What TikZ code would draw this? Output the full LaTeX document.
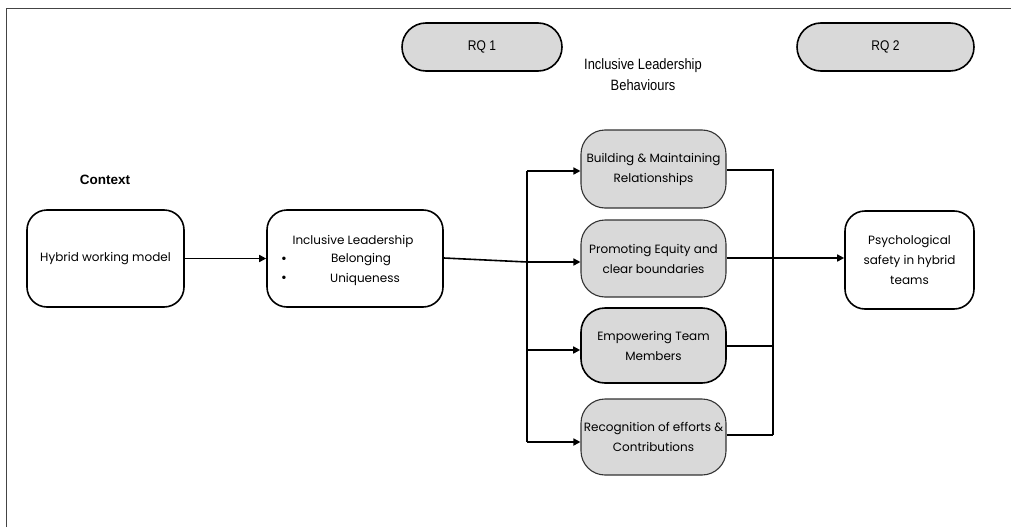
\documentclass[tikz,border=0pt]{standalone}
\usepackage{fontspec}
\setmainfont{Poppins}
\newfontfamily\narrowfont[FakeStretch=0.86]{Liberation Sans}
\newfontfamily\ctxfont{Liberation Sans}
\usetikzlibrary{arrows.meta}
\definecolor{boxgray}{HTML}{D9D9D9}
\definecolor{framegray}{HTML}{444444}
\tikzset{
  boxfont/.style={font=\fontsize{12}{20}\selectfont},
  whitebox/.style={draw=black, line width=1.6pt, fill=white, rounded corners=20pt,
    align=center, boxfont, inner sep=0pt},
  graybox/.style={draw=black!80, line width=1.1pt, fill=boxgray, rounded corners=24pt,
    align=center, boxfont, minimum width=145pt, inner sep=0pt},
  rqbox/.style={draw=black, line width=1.6pt, fill=boxgray, rounded corners=24pt,
    align=center, font=\narrowfont\fontsize{14}{16}\selectfont, inner sep=0pt, minimum height=48pt},
  conn/.style={line width=1.6pt, draw=black},
  arr/.style={conn, -{Triangle[length=7pt,width=7pt]}},
}
\begin{document}
\begin{tikzpicture}[x=1pt,y=-1pt]
\useasboundingbox (0,0) rectangle (1011,527);
\draw[framegray, line width=1.5pt] (6.5,527) -- (6.5,8.5) -- (1011,8.5);

% top labels
\node[rqbox, minimum width=160pt] (rq1) at (482,47) {RQ 1};
\node[rqbox, minimum width=177pt] (rq2) at (885.5,47) {RQ 2};
\node[font=\narrowfont\fontsize{15}{21}\selectfont, align=center] (ilb) at (643,75) {Inclusive Leadership\\Behaviours};

% context
\node[font=\ctxfont\bfseries\fontsize{13.5}{16}\selectfont] (ctx) at (105,180) {Context};
\node[whitebox, minimum width=157pt, minimum height=97pt] (hyb) at (105.5,258.5) {Hybrid working model};
\node[whitebox, minimum width=176pt, minimum height=97pt] (il) at (355,258.5) {};
\node[boxfont] (ilt) at (353,241) {Inclusive Leadership};
\node[boxfont] (ilb1) at (361,260) {Belonging};
\node[boxfont] (ilb2) at (365,279) {Uniqueness};
\node[font=\fontsize{14}{15}\selectfont] (bul1) at (284,260) {•};
\node[font=\fontsize{14}{15}\selectfont] (bul2) at (284,279) {•};

% gray behaviours
\node[graybox, minimum height=78pt] (b1) at (653.5,169) {Building \& Maintaining\\Relationships};
\node[graybox, minimum height=77pt] (b2) at (653.5,258.5) {Promoting Equity and\\clear boundaries};
\node[graybox, minimum height=75pt, draw=black, line width=1.6pt] (b3) at (653.5,345.5) {Empowering Team\\Members};
\node[graybox, minimum height=76pt] (b4) at (653.5,437) {Recognition of efforts \&\\Contributions};

% outcome
\node[whitebox, minimum width=129pt, minimum height=98pt] (psy) at (909.5,260) {Psychological\\safety in hybrid\\teams};

% coordinates
\coordinate (sl) at (527,171);
\coordinate (sm) at (527,262);
\coordinate (s3) at (527,350);
\coordinate (s4) at (527,442);
\coordinate (rt) at (773,170);
\coordinate (r3) at (773,346);
\coordinate (r4) at (773,435);

% connectors
\draw[arr] (hyb.east) -- (il.west);
\draw[conn] (il.east |- 0,258) -- (sm);
\draw[arr] (sm) -- (b2.west |- sm);
\draw[conn] (sl) -- (s4);
\draw[arr] (sl) -- (b1.west |- sl);
\draw[arr] (s3) -- (b3.west |- s3);
\draw[arr] (s4) -- (b4.west |- s4);

\draw[conn] (b1.east |- rt) -- (rt) -- (r4);
\draw[conn] (b3.east |- r3) -- (r3);
\draw[conn] (b4.east |- r4) -- (r4);
\draw[arr] (b2.east |- 0,258) -- (psy.west |- 0,258);
\end{tikzpicture}
\end{document}
